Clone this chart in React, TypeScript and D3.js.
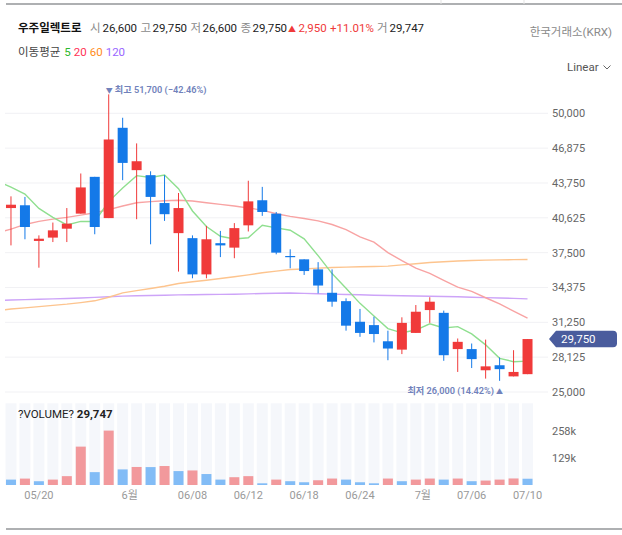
import React from 'react';
import * as d3 from 'd3';

const stockName = '우주일렉트로';
const exchange = '한국거래소(KRX)';

const dates = [
  '05/18', '05/19', '05/20', '05/22', '05/23', '05/24', '05/25', '05/26', '05/30', '06/01',
  '06/02', '06/05', '06/07', '06/08', '06/09', '06/10', '06/11', '06/12', '06/13', '06/14',
  '06/16', '06/18', '06/19', '06/20', '06/22', '06/24', '06/26', '06/27', '06/28', '06/30',
  '07/01', '07/03', '07/04', '07/06', '07/07', '07/08', '07/09', '07/10',
];
const opens = [
  41500, 41750, 38550, 38850, 39650, 41000, 44300, 40600, 48700, 44900,
  44450, 41950, 39250, 38800, 35550, 38350, 37950, 39950, 42200, 41000,
  37200, 36900, 36000, 33900, 33150, 31300, 31000, 29550, 28800, 30300,
  32350, 32100, 28850, 28850, 26950, 27400, 26400, 26600,
];
const highs = [
  42550, 42500, 39050, 40200, 41500, 44600, 44300, 51700, 49600, 47300,
  44800, 44450, 42850, 39050, 39900, 39450, 40150, 43950, 43400, 41150,
  37800, 36900, 36650, 36000, 33400, 32450, 31750, 30500, 31700, 32800,
  33500, 32300, 29800, 29350, 29700, 28100, 28750, 29750,
];
const lows = [
  38150, 38700, 36150, 38450, 38450, 41000, 39150, 40600, 44000, 40500,
  38250, 40350, 35800, 35200, 35200, 37100, 37000, 39400, 40800, 37350,
  36100, 35500, 33850, 32650, 30500, 29950, 29450, 27850, 28400, 30300,
  31200, 27800, 26800, 27150, 26200, 26000, 26400, 26600,
];
const closes = [
  41800, 39800, 38750, 39500, 40100, 43350, 39800, 47650, 45550, 45700,
  42500, 40950, 41500, 35550, 38700, 38150, 39700, 42100, 41150, 37500,
  37100, 35850, 34550, 33100, 30950, 30300, 30200, 28900, 31200, 32200,
  33100, 28300, 29500, 27950, 27300, 27050, 26800, 29750,
];
const volumes = [
  25600, 30400, 17900, 25600, 42000, 182000, 61000, 258000, 74000, 85500,
  85000, 90000, 66000, 69000, 52000, 25600, 37000, 42000, 8000, 25600,
  18000, 13000, 22500, 30600, 25600, 13000, 8000, 30600, 18000, 25600,
  30600, 25600, 30600, 18000, 21000, 25600, 31000, 29747,
];
const volumeUp = [
  false, true, false, true, true, true, false, true, false, true,
  false, true, false, true, false, false, true, true, false, true,
  false, false, true, true, false, false, false, true, false, true,
  true, false, true, false, true, true, true, false,
];
// moving-average values that depend on sessions before the window (index -1 ...)
const ma5Head = [43920, 43380, 42750, 41470, 40660];
const ma20Head = [
  39250, 39610, 40030, 40310, 40510, 40660, 40870, 41080, 41360, 41680,
  41970, 42080, 42150, 42200, 42130, 41970, 41830, 41690, 41500, 41320,
];
const ma60 = [
  32290, 32440, 32550, 32660, 32770, 32880, 33020, 33180, 33500, 33890,
  34090, 34290, 34490, 34730, 34890, 35030, 35180, 35340, 35510, 35700,
  35840, 35990, 36040, 36110, 36170, 36200, 36230, 36260, 36290, 36400,
  36510, 36620, 36680, 36750, 36800, 36830, 36850, 36870, 36890,
];
const ma120 = [
  33210, 33250, 33290, 33320, 33350, 33390, 33430, 33490, 33550, 33600,
  33630, 33660, 33680, 33710, 33720, 33740, 33760, 33770, 33800, 33840,
  33860, 33880, 33850, 33810, 33780, 33750, 33720, 33680, 33660, 33640,
  33610, 33590, 33570, 33540, 33500, 33470, 33430, 33400, 33350,
];
const prevClose = 26800;
const priceTicks = [25000, 28125, 31250, 34375, 37500, 40625, 43750, 46875, 50000];
const volumeTicks = [129000, 258000];
const dateTicks = ['05/20', '06/01', '06/08', '06/12', '06/18', '06/24', '07/01', '07/06', '07/10'];
const maPeriods = ['5', '20', '60', '120'];

const W = 622;
const H = 535;
const FONT = "Roboto, 'Noto Sans CJK KR', sans-serif";
const RED = '#f03a3a';
const BLUE = '#1479e8';
const MA_LINE = ['#8fdf8f', '#f8a3a3', '#fdc48e', '#cda4f8'];
const MA_TEXT = ['#2db82d', '#ff3355', '#ff8c1a', '#9966ff'];

function rolling(head: number[], n: number) {
  const out = [...head];
  for (let i = n - 1; i < closes.length; i++) {
    out.push(d3.mean(closes.slice(i - n + 1, i + 1)) as number);
  }
  return out;
}

export default function App() {
  const x = d3.scaleBand<string>().domain(dates).range([4, 534.5]).paddingInner(0).paddingOuter(0);
  const step = x.step();
  const cx = (i: number) => (x(dates[0]) as number) + step / 2 + i * step;
  const y = d3.scaleLinear().domain([25000, 50000]).range([392, 113.3]);
  const yv = d3.scaleLinear().domain([0, 258000]).range([485, 430.6]);
  const fmt = d3.format(',');
  const n = closes.length;
  const last = n - 1;

  const maSeries = [rolling(ma5Head, 5), rolling(ma20Head, 20), ma60, ma120];
  const line = d3
    .line<number>()
    .x((_, k) => cx(k - 1))
    .y((v) => y(v));

  const hi = d3.max(highs) as number;
  const hiIdx = highs.indexOf(hi);
  const lo = d3.min(lows) as number;
  const loIdx = lows.indexOf(lo);
  const lastClose = closes[last];
  const pctFmt = d3.format('.2f');
  const change = lastClose - prevClose;
  const changePct = (change / prevClose) * 100;

  const bodyW = 10;
  const volW = 10;
  const stripeW = 11;
  const tagY = y(lastClose);

  return (
    <svg
      width={W}
      height={H}
      style={{ position: 'absolute', left: 0, top: 0, background: '#fff' }}
      fontFamily={FONT}
    >
      <defs>
        <clipPath id="plot">
          <rect x={5} y={100} width={543} height={300} />
        </clipPath>
      </defs>
      <rect width={W} height={H} fill="#fff" />
      {/* frame lines */}
      <line x1={6} x2={W} y1={4} y2={4} stroke="#5f6266" strokeWidth={1.2} />
      <line x1={441} x2={441} y1={0} y2={4} stroke="#e3e3e3" />
      <line x1={524} x2={524} y1={0} y2={4} stroke="#e3e3e3" />
      <line x1={6} x2={W} y1={529} y2={529} stroke="#5f6266" strokeWidth={1.2} />

      {/* header */}
      <text y={31.5} fontSize={11.5}>
        <tspan x={18} fontWeight="bold" fill="#111">{stockName}</tspan>
        <tspan x={90} fill="#8a8a8a">시</tspan>
        <tspan x={102.5} fill="#222">{fmt(opens[last])}</tspan>
        <tspan x={140.5} fill="#8a8a8a">고</tspan>
        <tspan x={152.5} fill="#222">{fmt(highs[last])}</tspan>
        <tspan x={190.5} fill="#8a8a8a">저</tspan>
        <tspan x={202.5} fill="#222">{fmt(lows[last])}</tspan>
        <tspan x={240.5} fill="#8a8a8a">종</tspan>
        <tspan x={252.5} fill="#222">{fmt(lastClose)}</tspan>
        <tspan x={288} fill={RED} fontSize={8}>▲</tspan>
        <tspan x={298.5} fill={RED}>{fmt(change)}</tspan>
        <tspan x={330} fill={RED}>{`+${pctFmt(changePct)}%`}</tspan>
        <tspan x={377} fill="#8a8a8a">거</tspan>
        <tspan x={389.5} fill="#222">{fmt(volumes[last])}</tspan>
      </text>
      <text x={612} y={36} fontSize={11.5} fill="#8a8a8a" textAnchor="end">{exchange}</text>
      <text y={55.7} fontSize={11.5}>
        <tspan x={18} fill="#444">이동평균</tspan>
        {maPeriods.map((p, k) => (
          <tspan key={p} dx={k === 0 ? 4 : 3} fill={MA_TEXT[k]}>{p}</tspan>
        ))}
      </text>
      <text x={567} y={70.7} fontSize={11.5} fill="#555">Linear</text>
      <path d="M603.5,65.5 L607,69 L610.5,65.5" fill="none" stroke="#666" strokeWidth={1} />

      {/* price grid & axis */}
      {priceTicks.map((t) => (
        <g key={t}>
          <line x1={5} x2={548} y1={y(t)} y2={y(t)} stroke="#f1f1f4" strokeWidth={1} />
          <text x={552} y={y(t) + 4} fontSize={11} fill="#666">{fmt(t)}</text>
        </g>
      ))}

      {/* moving averages */}
      <g clipPath="url(#plot)" fill="none" strokeWidth={1.4}>
        {[3, 2, 1, 0].map((k) => (
          <path key={k} d={line(maSeries[k]) as string} stroke={MA_LINE[k]} />
        ))}
      </g>

      {/* candles */}
      {dates.map((d, i) => {
        const up = closes[i] >= opens[i];
        const c = up ? RED : BLUE;
        const top = y(Math.max(opens[i], closes[i]));
        const bot = y(Math.min(opens[i], closes[i]));
        return (
          <g key={d}>
            <line x1={cx(i)} x2={cx(i)} y1={y(highs[i])} y2={y(lows[i])} stroke={c} strokeWidth={1} />
            <rect x={cx(i) - bodyW / 2} y={top} width={bodyW} height={Math.max(1.2, bot - top)} fill={c} />
          </g>
        );
      })}

      {/* high / low marks */}
      <text x={cx(hiIdx) - 3} y={92.5} fontSize={9.2} fontWeight={600} fill="#7182bb">
        <tspan fontSize={7}>▼</tspan>
        <tspan dx={2}>{`최고 ${fmt(hi)} (${pctFmt(((lastClose - hi) / hi) * 100)}%)`}</tspan>
      </text>
      <text x={cx(loIdx) + 3.5} y={394} fontSize={9.2} fontWeight={600} fill="#7182bb" textAnchor="end">
        <tspan>{`최저 ${fmt(lo)} (${pctFmt(((lastClose - lo) / lo) * 100)}%)`}</tspan>
        <tspan dx={2} fontSize={7}>▲</tspan>
      </text>

      {/* last price tag */}
      <path
        d={`M549,${tagY} L556,${tagY - 8.3} H613 Q617,${tagY - 8.3} 617,${tagY - 4.3} V${tagY + 4.3} Q617,${tagY + 8.3} 613,${tagY + 8.3} H556 Z`}
        fill="#4a5c9d"
      />
      <text x={561} y={tagY + 4} fontSize={11.5} fill="#fff">{fmt(lastClose)}</text>

      {/* volume panel */}
      {dates.map((d, i) => (
        <rect key={d} x={cx(i) - stripeW / 2} y={403.3} width={stripeW} height={485 - 403.3} fill="#f5f7fb" />
      ))}
      {dates.map((d, i) => (
        <rect
          key={d}
          x={cx(i) - volW / 2}
          y={yv(volumes[i])}
          width={volW}
          height={485 - yv(volumes[i])}
          fill={volumeUp[i] ? '#f2999c' : '#82bcf6'}
        />
      ))}
      <text x={18} y={418} fontSize={11.5} fill="#222">
        <tspan>?VOLUME? </tspan>
        <tspan fontWeight="bold">{fmt(volumes[last])}</tspan>
      </text>
      {volumeTicks.map((t) => (
        <text key={t} x={552} y={yv(t) + 4} fontSize={11} fill="#666">{`${t / 1000}k`}</text>
      ))}

      {/* date axis */}
      {dateTicks.map((d) => {
        const isMonth = d.endsWith('/01');
        const label = isMonth ? `${+d.slice(0, 2)}월` : d;
        const xp = isMonth ? (x(d) as number) : (x(d) as number) + step / 2;
        return (
          <text key={d} x={xp} y={499} fontSize={11} fill="#999" textAnchor="middle">{label}</text>
        );
      })}
    </svg>
  );
}
